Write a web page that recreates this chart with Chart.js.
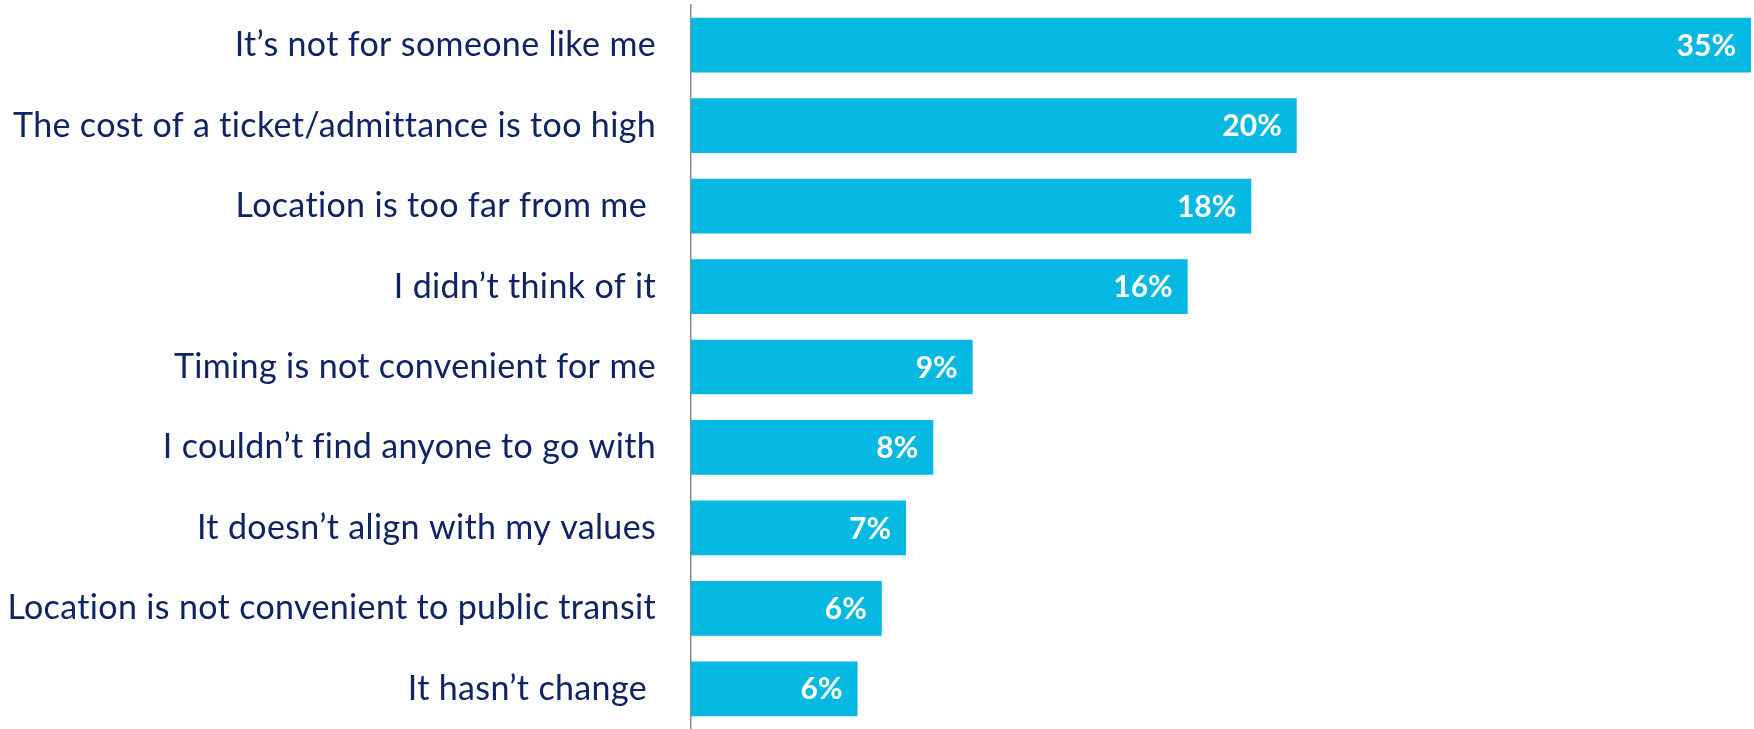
<!DOCTYPE html>
<html>
<head>
<meta charset="utf-8">
<script src="https://cdn.jsdelivr.net/npm/chart.js@4.4.0/dist/chart.umd.min.js"></script>
<style>
  html, body { margin: 0; padding: 0; background: #fff; }
  #wrap { width: 1754px; height: 729px; position: relative; }
</style>
</head>
<body>
<div id="wrap"><canvas id="chart"></canvas></div>
<script>
// reasons (top to bottom) and the share for each
const reasons = [
  'It\u2019s not for someone like me',
  'The cost of a ticket/admittance is too high',
  'Location is too far from me ',
  'I didn\u2019t think of it',
  'Timing is not convenient for me',
  'I couldn\u2019t find anyone to go with',
  'It doesn\u2019t align with my values',
  'Location is not convenient to public transit',
  'It hasn\u2019t change '
];
const shares = [35, 20, 18.5, 16.4, 9.3, 8.0, 7.1, 6.3, 5.5];
const shareLabels = ['35%', '20%', '18%', '16%', '9%', '8%', '7%', '6%', '6%'];

const barColor = '#05B9E3';
const textColor = '#0E2466';

// a touch of letter spacing keeps Lato from joining "ti" into a ligature
const noLigatures = {
  id: 'noLigatures',
  beforeDraw(chart) { chart.ctx.letterSpacing = '0.35px'; },
  afterDraw(chart) { chart.ctx.letterSpacing = '0px'; }
};

// white value text inside the end of each bar
const valueLabels = {
  id: 'valueLabels',
  afterDatasetsDraw(chart) {
    const ctx = chart.ctx;
    const meta = chart.getDatasetMeta(0);
    ctx.save();
    ctx.letterSpacing = '0px';
    ctx.fillStyle = '#ffffff';
    ctx.font = 'bold 30px Lato';
    ctx.textAlign = 'right';
    ctx.textBaseline = 'middle';
    meta.data.forEach((bar, i) => {
      ctx.fillText(shareLabels[i], bar.x - 15, bar.y + 1);
    });
    ctx.restore();
  }
};

new Chart(document.getElementById('chart'), {
  type: 'bar',
  data: {
    labels: reasons,
    datasets: [{
      data: shares,
      backgroundColor: barColor,
      borderWidth: 0,
      categoryPercentage: 1.0,
      barPercentage: 0.68
    }]
  },
  options: {
    indexAxis: 'y',
    responsive: true,
    maintainAspectRatio: false,
    animation: false,
    layout: { padding: { top: 5, right: 3, bottom: 0, left: 0 } },
    plugins: {
      legend: { display: false },
      tooltip: { enabled: false }
    },
    scales: {
      x: {
        display: false,
        min: 0,
        max: 35
      },
      y: {
        grid: { display: false, drawTicks: false },
        border: { display: true, color: '#8a8a8a', width: 1.5 },
        ticks: {
          color: textColor,
          font: { family: 'Lato', size: 34 },
          padding: 35
        },
        afterFit(scale) {
          // fixed label column, no extra room above/below for the labels
          scale.width = 691;
          scale.paddingTop = 0;
          scale.paddingBottom = 0;
        }
      }
    }
  },
  plugins: [noLigatures, valueLabels]
});
</script>
</body>
</html>
